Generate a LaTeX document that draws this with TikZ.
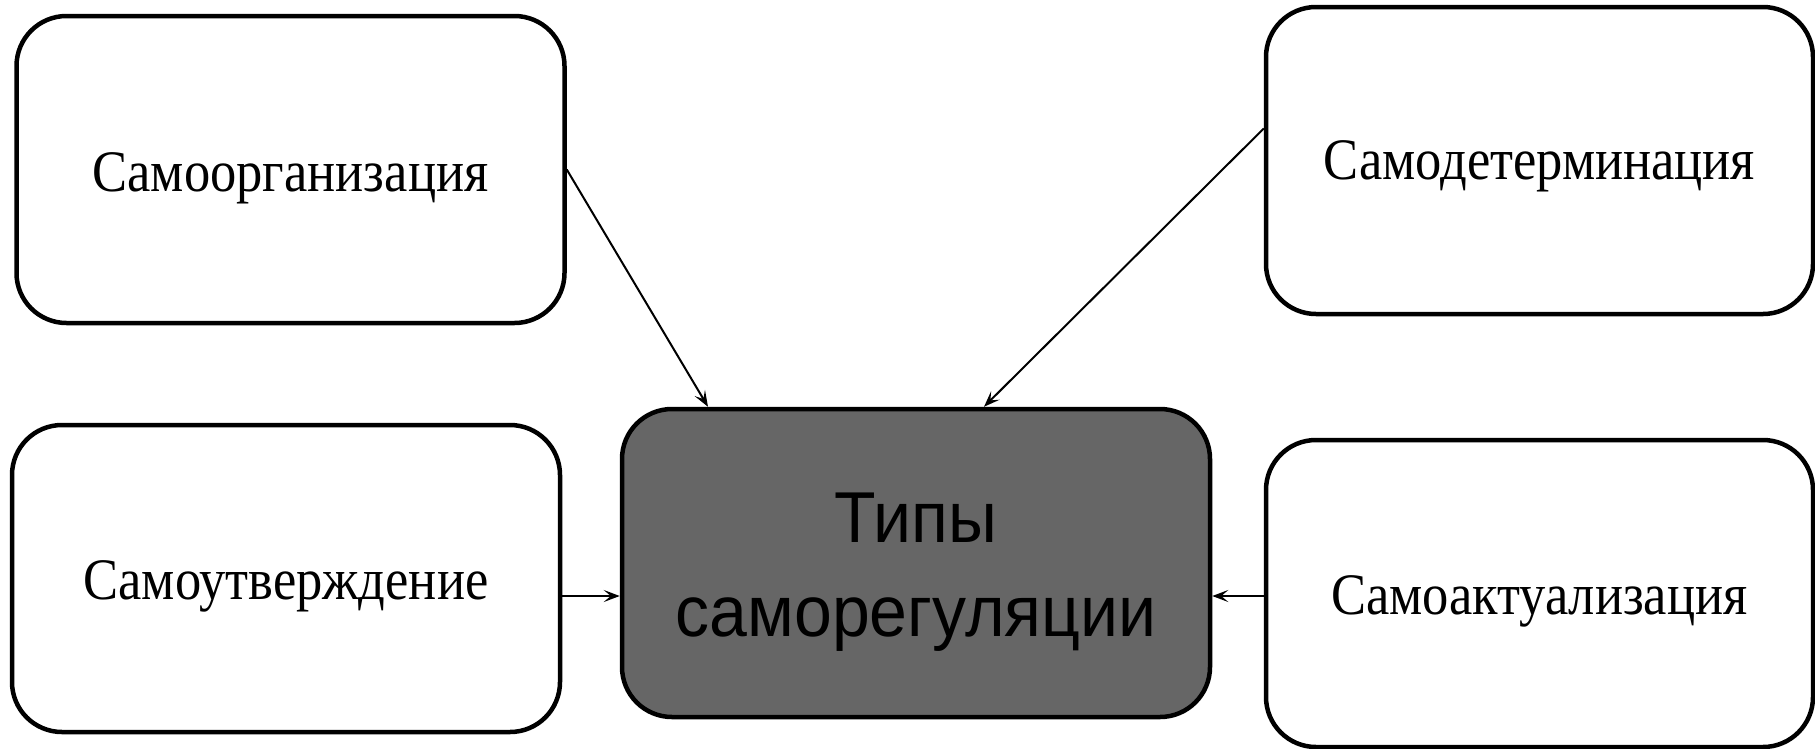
\documentclass[tikz,border=0pt]{standalone}
\usepackage{fontspec}
\usepackage{graphicx}
\setmainfont{Liberation Serif}
\newfontfamily\centerfont{Liberation Sans}
\usetikzlibrary{arrows.meta}
% labels are drawn a little taller than their natural shape
\newcommand{\tallserif}[1]{\scalebox{1}[1.12]{#1}}
\newcommand{\tallsans}[1]{\scalebox{1}[1.06]{#1}}
\tikzset{
  typebox/.style={draw=black, line width=4.5pt, rounded corners=50pt, fill=white,
    minimum width=548pt, minimum height=307pt, inner sep=0pt,
    text height=41pt, text depth=0pt,
    font=\fontsize{52.5}{60}\selectfont},
  hubbox/.style={draw=black, line width=4.5pt, rounded corners=50pt, fill=black!60,
    minimum width=588pt, minimum height=308pt, inner sep=0pt,
    text height=146pt, text depth=0pt,
    font=\centerfont\fontsize{68}{94}\selectfont},
  link/.style={line width=2pt, -{Stealth[length=16pt, width=12pt, inset=7pt]}}
}
\begin{document}
\begin{tikzpicture}[x=1pt, y=-1pt]
  \useasboundingbox (0,0) rectangle (1815,748);
  \node[hubbox] (c) at (916,563)
    {\vbox{\baselineskip=94pt\lineskiplimit=-100pt
      \halign{\hfil#\hfil\cr\tallsans{Типы}\cr\tallsans{саморегуляции}\cr}}};
  \node[typebox, text height=43pt] (b1) at (290.5,169.5) {\tallserif{Самоорганизация}};
  \node[typebox, minimum width=547pt, text height=37pt] (b2) at (1539.5,160.5) {\tallserif{Самодетерминация}};
  \node[typebox] (b3) at (286,578.5) {\tallserif{Самоутверждение}};
  \node[typebox, minimum width=547pt, text height=42pt] (b4) at (1539.5,593.5) {\tallserif{Самоактуализация}};
  \draw[link] (b1.east) -- ([xshift=-208pt]c.north);
  \draw[link] ([yshift=32pt]b2.west) -- ([xshift=68pt]c.north);
  \draw[link] ([yshift=-17.5pt]b3.east) -- ([yshift=-17.5pt]b3.east -| c.west);
  \draw[link] ([yshift=-2.5pt]b4.west) -- ([yshift=-2.5pt]b4.west -| c.east);
\end{tikzpicture}
\end{document}
